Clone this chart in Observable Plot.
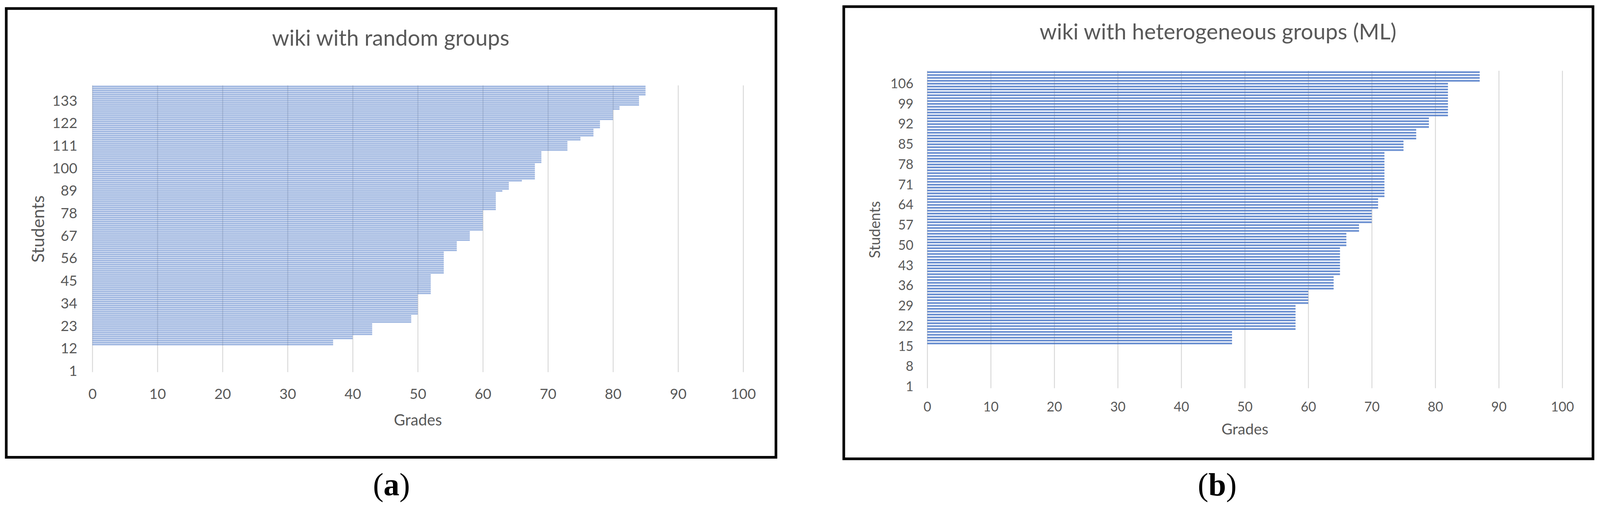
<!DOCTYPE html>
<html><head><meta charset="utf-8">
<script src="https://cdn.jsdelivr.net/npm/d3@7"></script>
<script src="https://cdn.jsdelivr.net/npm/@observablehq/plot@0.6"></script>
<style>
html,body{margin:0;padding:0;background:#fff;overflow:hidden;}
#root{position:absolute;left:0;top:0;width:4222px;height:1350px;transform-origin:0 0;background:#fff;font-family:Lato,sans-serif;}
.panel{position:absolute;box-sizing:border-box;border:7px solid #000;}
.title{position:absolute;white-space:nowrap;text-align:center;color:#595959;font-family:Lato,sans-serif;line-height:1;}
.cap{position:absolute;font-family:"Liberation Serif","Times New Roman",serif;font-size:84px;line-height:1;color:#000;text-align:center;white-space:nowrap;}
.plot{position:absolute;}
</style></head><body>
<div id="root">
<div class="panel" style="left:12.5px;top:18.5px;width:2038px;height:1192px;"></div>
<div class="panel" style="left:2222.5px;top:14px;width:1984px;height:1201px;"></div>
<div class="title" id="titleA" style="left:331px;width:1400px;top:70px;font-size:58px;"></div>
<div class="title" id="titleB" style="left:2514px;width:1400px;top:53px;font-size:58px;"></div>
<div class="plot" id="plotA" style="left:0px;top:0px;width:2100px;"></div>
<div class="plot" id="plotB" style="left:2110px;top:0px;width:2112px;"></div>
<div class="cap" style="left:833px;width:400px;top:1238px;">(<b>a</b>)</div>
<div class="cap" style="left:3012px;width:400px;top:1238px;">(<b>b</b>)</div>
</div>
<script>
// ---- data ----
const titleA = "wiki with random groups";
const titleB = "wiki with heterogeneous groups (ML)";
const xLabel = "Grades";
const yLabel = "Students";
const gradeTicks = [0,10,20,30,40,50,60,70,80,90,100];

const gradesA = [
  0,0,0,0,0,0,0,0,0,0,
  0,0,0,37,37,37,40,40,43,43,
  43,43,43,43,49,49,49,49,50,50,
  50,50,50,50,50,50,50,50,52,52,
  52,52,52,52,52,52,52,52,54,54,
  54,54,54,54,54,54,54,54,54,56,
  56,56,56,56,58,58,58,58,58,60,
  60,60,60,60,60,60,60,60,60,62,
  62,62,62,62,62,62,62,62,63,64,
  64,64,64,66,68,68,68,68,68,68,
  68,68,69,69,69,69,69,69,73,73,
  73,73,73,75,75,77,77,77,77,78,
  78,78,78,80,80,80,80,80,81,81,
  84,84,84,84,84,85,85,85,85,85
];
const studentsA = d3.range(1, gradesA.length + 1);
const studentTicksA = [1,12,23,34,45,56,67,78,89,100,111,122,133];

const gradesB = [
  0,0,0,0,0,0,0,0,0,0,
  0,0,0,0,0,48,48,48,48,48,
  58,58,58,58,58,58,58,58,58,60,
  60,60,60,60,64,64,64,64,64,65,
  65,65,65,65,65,65,65,65,65,66,
  66,66,66,66,68,68,68,70,70,70,
  70,70,71,71,71,71,72,72,72,72,
  72,72,72,72,72,72,72,72,72,72,
  72,72,75,75,75,75,77,77,77,77,
  79,79,79,79,82,82,82,82,82,82,
  82,82,82,82,82,82,87,87,87,87
];
const studentsB = d3.range(1, gradesB.length + 1);
const studentTicksB = [1,8,15,22,29,36,43,50,57,64,71,78,85,92,99,106];

// fit the 4222x1350 layout to the actual viewport
function fit() {
  const k = Math.min(window.innerWidth / 4222, window.innerHeight / 1350);
  document.getElementById("root").style.transform = `scale(${k})`;
}
fit();
window.addEventListener("resize", fit);

document.getElementById("titleA").textContent = titleA;
document.getElementById("titleB").textContent = titleB;

function makePlot(cfg) {
  const data = cfg.students.map((s, i) => ({student: s, grade: cfg.grades[i]}));
  return Plot.plot({
    width: cfg.width, height: cfg.height,
    marginLeft: cfg.ml, marginRight: cfg.mr, marginTop: cfg.mt, marginBottom: cfg.mb,
    style: {fontFamily: "Lato, sans-serif", color: "#595959", background: "transparent", overflow: "visible", maxWidth: "none"},
    x: {domain: [0, 100]},
    y: {type: "band", domain: cfg.students.slice().reverse(), paddingInner: cfg.pad, paddingOuter: cfg.pad / 2},
    marks: [
      Plot.ruleX(gradeTicks, {stroke: "#d9d9d9", strokeWidth: 2.5}),
      Plot.barX(data, {x: "grade", y: "student", fill: "#4472c4", fillOpacity: cfg.op}),
      Plot.axisX({ticks: gradeTicks, tickSize: 0, tickPadding: cfg.xpad, fontSize: cfg.tickFs, label: null}),
      Plot.axisY({ticks: cfg.ticks, tickSize: 0, tickPadding: cfg.ypad, fontSize: cfg.tickFs, label: null}),
      Plot.text([xLabel], {text: d => d, frameAnchor: "bottom", dy: cfg.xlabDy, lineAnchor: "middle", fontSize: cfg.xlabFs, fill: "#595959"}),
      Plot.text([yLabel], {text: d => d, frameAnchor: "left", dx: cfg.ylabDx, rotate: -90, lineAnchor: "middle", textAnchor: "middle", fontSize: cfg.ylabFs, fill: "#595959"})
    ]
  });
}

document.getElementById("plotA").append(makePlot({
  students: studentsA, grades: gradesA, ticks: studentTicksA,
  width: 2100, height: 1200, ml: 243.6, mr: 139, mt: 225.6, mb: 217.3,
  pad: 0.2, op: 0.5, tickFs: 38, xpad: 43, ypad: 40,
  xlabDy: 127, xlabFs: 41, ylabDx: -142.6, ylabFs: 46
}));

document.getElementById("plotB").append(makePlot({
  students: studentsB, grades: gradesB, ticks: studentTicksB,
  width: 2112, height: 1230, ml: 336.7, mr: 99.6, mt: 186.7, mb: 205,
  pad: 0.42, op: 0.8, tickFs: 35, xpad: 36, ypad: 36.7,
  xlabDy: 109, xlabFs: 40, ylabDx: -137.7, ylabFs: 39
}));
</script>
</body></html>
